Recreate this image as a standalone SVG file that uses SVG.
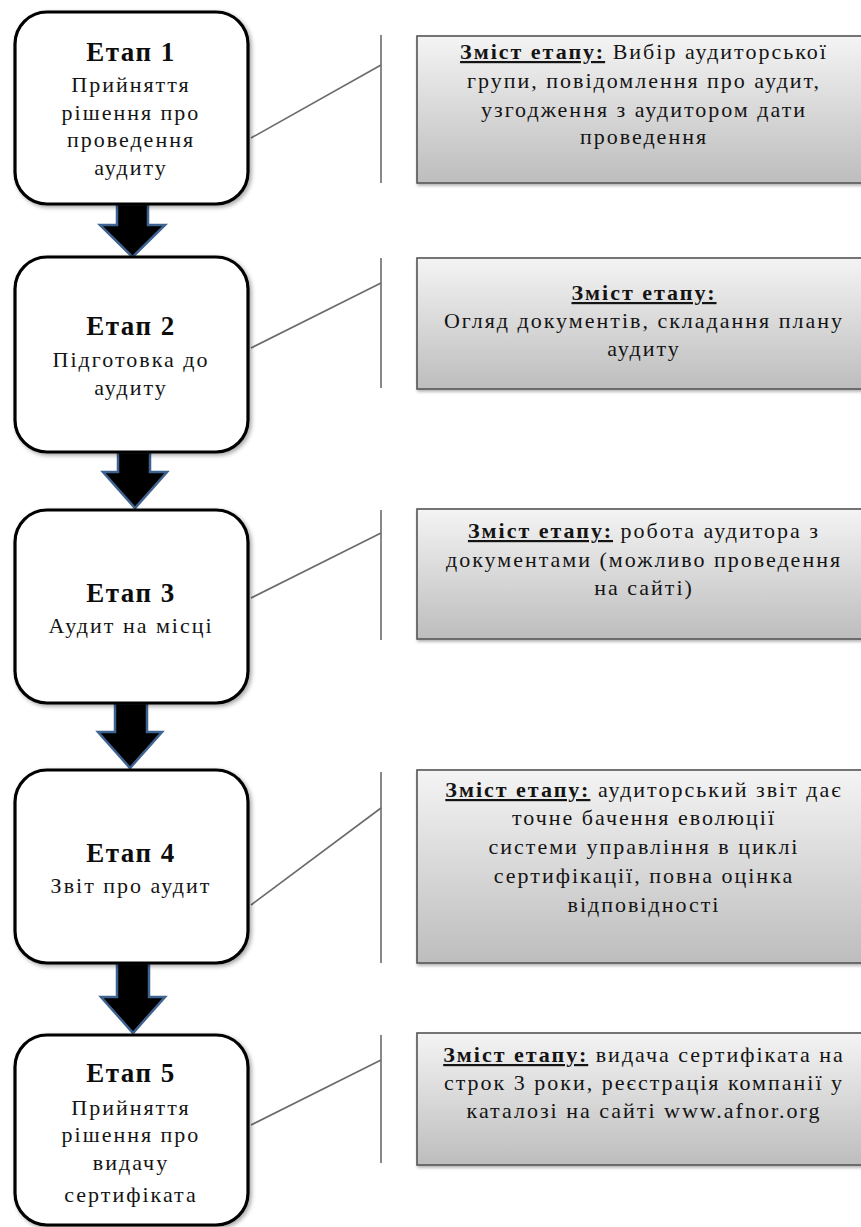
<svg xmlns="http://www.w3.org/2000/svg" width="861" height="1227" viewBox="0 0 861 1227">
  <defs>
    <linearGradient id="grayFill" x1="0" y1="0" x2="0" y2="1">
      <stop offset="0" stop-color="#f4f4f4"/>
      <stop offset="1" stop-color="#bdbdbd"/>
    </linearGradient>
    <filter id="boxShadow" x="-10%" y="-10%" width="125%" height="125%">
      <feDropShadow dx="2" dy="2" stdDeviation="2" flood-color="#000" flood-opacity="0.35"/>
    </filter>
    <filter id="noteShadow" x="-5%" y="-5%" width="115%" height="120%">
      <feDropShadow dx="1" dy="2" stdDeviation="1.5" flood-color="#000" flood-opacity="0.3"/>
    </filter>
  </defs>
  <style>
    .stage { fill: #ffffff; stroke: #000000; stroke-width: 3.2; filter: url(#boxShadow); }
    .note { fill: url(#grayFill); stroke: #555555; stroke-width: 1.6; filter: url(#noteShadow); }
    .arrow { fill: #000000; stroke: #3f6390; stroke-width: 2.5; stroke-linejoin: miter; }
    .link { stroke: #6b6b6b; stroke-width: 1.6; fill: none; }
    text { font-family: "Liberation Serif", "Times New Roman", serif; fill: #141414; text-anchor: middle; }
    .title { font-size: 27px; font-weight: bold; letter-spacing: 1.5px; fill: #0d0d0d; }
    .body { font-size: 22px; letter-spacing: 2px; }
    .lead { font-weight: bold; text-decoration: underline; }
  </style>

  <rect width="861" height="1227" fill="#ffffff"/>

  <!-- connectors: leader lines from each stage to its description -->
  <g id="connectors">
    <line class="link" x1="381" y1="35" x2="381" y2="183"/>
    <line class="link" x1="251" y1="138" x2="381" y2="65"/>
    <line class="link" x1="381" y1="258" x2="381" y2="388"/>
    <line class="link" x1="251" y1="348" x2="381" y2="283"/>
    <line class="link" x1="381" y1="510" x2="381" y2="640"/>
    <line class="link" x1="251" y1="598" x2="381" y2="533"/>
    <line class="link" x1="381" y1="772" x2="381" y2="963"/>
    <line class="link" x1="251" y1="905" x2="381" y2="808"/>
    <line class="link" x1="381" y1="1035" x2="381" y2="1163"/>
    <line class="link" x1="251" y1="1125" x2="381" y2="1060"/>
    <!-- block arrows between stages -->
    <polygon class="arrow" points="117,204 148,204 148,225 165,225 132.5,257 100,225 117,225"/>
    <polygon class="arrow" points="118,452 150,452 150,472 167,472 135,508 103,472 118,472"/>
    <polygon class="arrow" points="115,703 147,703 147,732 162,732 130,768 98,732 115,732"/>
    <polygon class="arrow" points="117,963 149,963 149,997 165,997 133,1033 101,997 117,997"/>
  </g>

  <!-- stage boxes -->
  <g id="stage1">
    <rect class="stage" x="15" y="12" width="233" height="192" rx="32"/>
    <text class="title" x="131" y="61">Етап 1</text>
    <text class="body" x="131" y="92">Прийняття</text>
    <text class="body" x="131" y="120">рішення про</text>
    <text class="body" x="131" y="147">проведення</text>
    <text class="body" x="131" y="175">аудиту</text>
  </g>
  <g id="stage2">
    <rect class="stage" x="15" y="257" width="233" height="195" rx="32"/>
    <text class="title" x="131" y="335">Етап 2</text>
    <text class="body" x="131" y="367">Підготовка до</text>
    <text class="body" x="131" y="395">аудиту</text>
  </g>
  <g id="stage3">
    <rect class="stage" x="15" y="510" width="233" height="193" rx="32"/>
    <text class="title" x="131" y="602">Етап 3</text>
    <text class="body" x="131" y="633">Аудит на місці</text>
  </g>
  <g id="stage4">
    <rect class="stage" x="15" y="770" width="233" height="193" rx="32"/>
    <text class="title" x="131" y="862">Етап 4</text>
    <text class="body" x="131" y="893">Звіт про аудит</text>
  </g>
  <g id="stage5">
    <rect class="stage" x="15" y="1035" width="233" height="190" rx="32"/>
    <text class="title" x="131" y="1082">Етап 5</text>
    <text class="body" x="131" y="1115">Прийняття</text>
    <text class="body" x="131" y="1142">рішення про</text>
    <text class="body" x="131" y="1170">видачу</text>
    <text class="body" x="131" y="1202">сертифіката</text>
  </g>

  <!-- stage descriptions -->
  <g id="note1">
    <rect class="note" x="417" y="36" width="455" height="147"/>
    <text class="body" x="644" y="59"><tspan class="lead">Зміст етапу:</tspan> Вибір аудиторської</text>
    <text class="body" x="644" y="88">групи, повідомлення про аудит,</text>
    <text class="body" x="644" y="117">узгодження з аудитором дати</text>
    <text class="body" x="644" y="144">проведення</text>
  </g>
  <g id="note2">
    <rect class="note" x="417" y="258" width="455" height="131"/>
    <text class="body" x="644" y="300"><tspan class="lead">Зміст етапу:</tspan></text>
    <text class="body" x="644" y="328">Огляд документів, складання плану</text>
    <text class="body" x="644" y="356">аудиту</text>
  </g>
  <g id="note3">
    <rect class="note" x="417" y="509" width="455" height="130"/>
    <text class="body" x="644" y="538"><tspan class="lead">Зміст етапу:</tspan> робота аудитора з</text>
    <text class="body" x="644" y="567">документами (можливо проведення</text>
    <text class="body" x="644" y="595">на сайті)</text>
  </g>
  <g id="note4">
    <rect class="note" x="417" y="770" width="455" height="193"/>
    <text class="body" x="644" y="797"><tspan class="lead">Зміст етапу:</tspan> аудиторський звіт дає</text>
    <text class="body" x="644" y="825">точне бачення еволюції</text>
    <text class="body" x="644" y="854">системи управління в циклі</text>
    <text class="body" x="644" y="883">сертифікації, повна оцінка</text>
    <text class="body" x="644" y="912">відповідності</text>
  </g>
  <g id="note5">
    <rect class="note" x="417" y="1033" width="455" height="132"/>
    <text class="body" x="644" y="1062"><tspan class="lead">Зміст етапу:</tspan> видача сертифіката на</text>
    <text class="body" x="644" y="1090">строк 3 роки, реєстрація компанії у</text>
    <text class="body" x="644" y="1118">каталозі на сайті www.afnor.org</text>
  </g>
</svg>
